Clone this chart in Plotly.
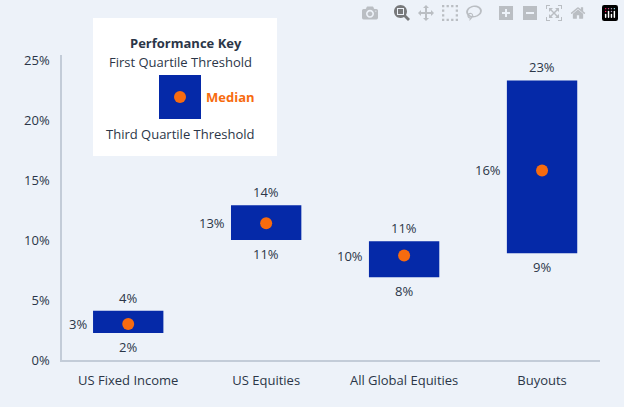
import plotly.graph_objects as go

categories = ["US Fixed Income", "US Equities", "All Global Equities", "Buyouts"]
q1 = [4.1, 12.9, 9.9, 23.3]       # first quartile (top of box)
q3 = [2.25, 10.0, 6.9, 8.9]       # third quartile (bottom of box)
median = [3.0, 11.4, 8.7, 15.8]
q1_labels = ["4%", "14%", "11%", "23%"]
q3_labels = ["2%", "11%", "8%", "9%"]
median_labels = ["3%", "13%", "10%", "16%"]

BLUE = "#0529a8"
ORANGE = "#f76b0f"
TEXT = "#2b3648"
BG = "#edf2f9"
FONT = "Open Sans"

xs = list(range(len(categories)))
bw = 0.51

fig = go.Figure()
fig.add_trace(go.Bar(x=xs, y=[a - b for a, b in zip(q1, q3)], base=q3, width=bw,
                     marker=dict(color=BLUE, line=dict(width=0)), hoverinfo="skip"))
fig.add_trace(go.Scatter(x=xs, y=median, mode="markers",
                         marker=dict(color=ORANGE, size=12), hoverinfo="skip"))

for i in xs:
    fig.add_annotation(x=i, y=q1[i], text=q1_labels[i], showarrow=False, yshift=13,
                       font=dict(size=13, color=TEXT))
    fig.add_annotation(x=i, y=q3[i], text=q3_labels[i], showarrow=False, yshift=-14,
                       font=dict(size=13, color=TEXT))
    fig.add_annotation(x=i - bw / 2, y=median[i], text=median_labels[i], showarrow=False,
                       xanchor="right", xshift=-4, font=dict(size=13, color=TEXT))

# performance key box, in pixel terms converted to paper coords
L, R, T, B = 62, 600, 55, 360
def px(x): return (x - L) / (R - L)
def py(y): return (B - y) / (B - T)

fig.add_shape(type="rect", xref="paper", yref="paper", x0=px(93), x1=px(277), y0=py(156), y1=py(18),
              fillcolor="white", line=dict(width=0), layer="below")
fig.add_shape(type="rect", xref="paper", yref="paper", x0=px(159), x1=px(201), y0=py(119), y1=py(75),
              fillcolor=BLUE, line=dict(width=0))
fig.add_shape(type="circle", xref="paper", yref="paper", x0=px(174), x1=px(186), y0=py(103), y1=py(91),
              fillcolor=ORANGE, line=dict(width=0))
key_text = [
    (186, 43, "<b>Performance Key</b>", TEXT, "center"),
    (180, 62, "First Quartile Threshold", TEXT, "center"),
    (204, 97, "<b>Median</b>", ORANGE, "left"),
    (180, 134, "Third Quartile Threshold", TEXT, "center"),
]
for x, y, t, c, anchor in key_text:
    fig.add_annotation(xref="paper", yref="paper", x=px(x), y=py(y), text=t, xanchor=anchor,
                       yanchor="middle", showarrow=False, font=dict(size=13, color=c, family=FONT))

fig.update_layout(
    width=624, height=407,
    margin=dict(l=L, r=624 - R, t=T, b=407 - B),
    paper_bgcolor=BG, plot_bgcolor=BG,
    showlegend=False,
    font=dict(family=FONT, size=13, color=TEXT),
    xaxis=dict(range=[-0.48, 3.42], tickvals=xs, ticktext=categories, showgrid=False,
               zeroline=False, showline=True, linecolor="#c3ccd8", linewidth=1.5, ticks="",
               ticklabelstandoff=8),
    yaxis=dict(range=[0, 25.42], tickvals=[0, 5, 10, 15, 20, 25],
               ticktext=["0%", "5%", "10%", "15%", "20%", "25%"], showgrid=False,
               zeroline=False, showline=True, linecolor="#c3ccd8", linewidth=1.5, ticks="",
               ticklabelstandoff=8),
)

fig.write_html("out.html", post_script="document.body.style.margin='0';")
